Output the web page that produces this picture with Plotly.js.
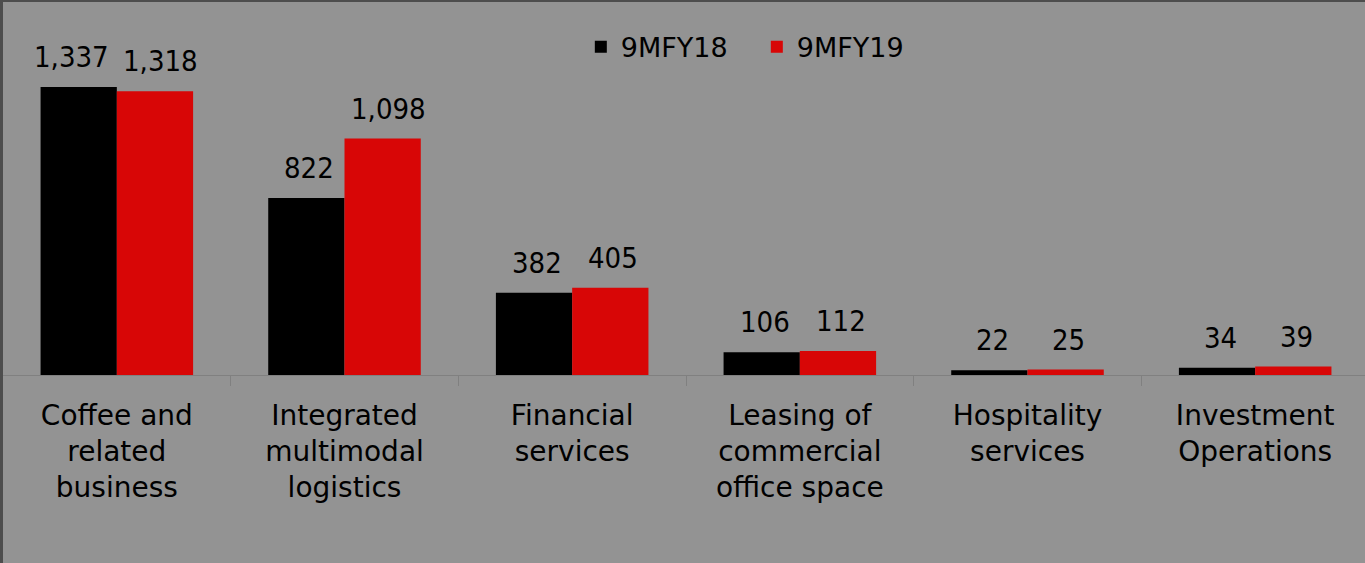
<!DOCTYPE html>
<html>
<head>
<meta charset="utf-8">
<script src="https://cdn.plot.ly/plotly-3.0.1.min.js"></script>
<style>
  html, body { margin: 0; padding: 0; width: 1365px; height: 563px; overflow: hidden; background: #4d4d4d; }
  #chart { position: absolute; left: 3px; top: 2px; width: 1366px; height: 561px; }
</style>
</head>
<body>
<div id="chart"></div>
<script>
const categories = [
  "Coffee and<br>related<br>business",
  "Integrated<br>multimodal<br>logistics",
  "Financial<br>services",
  "Leasing of<br>commercial<br>office space",
  "Hospitality<br>services",
  "Investment<br>Operations"
];
const seriesNames = ["9MFY18", "9MFY19"];
const values9MFY18 = [1337, 822, 382, 106, 22, 34];
const values9MFY19 = [1318, 1098, 405, 112, 25, 39];

const FONT = "'DejaVu Sans', sans-serif";
const NUMFONT = "'DejaVu Sans Condensed', 'DejaVu Sans', sans-serif";
const colors = ["#000000", "#d80606"];
const bargap = 0.33;
const barW = (1 - bargap) / 2;

const traces = [values9MFY18, values9MFY19].map((vals, k) => ({
  type: "bar",
  name: seriesNames[k],
  x: categories.map((_, i) => i),
  y: vals,
  marker: { color: colors[k], line: { width: 0 } },
  hoverinfo: "skip"
}));

const annotations = [];
[values9MFY18, values9MFY19].forEach((vals, k) => {
  vals.forEach((v, i) => {
    const wide = v >= 1000;
    annotations.push({
      x: i + (k === 0 ? -barW / 2 : barW / 2),
      y: v,
      xref: "x", yref: "y",
      text: v.toLocaleString("en-US"),
      showarrow: false,
      yanchor: "bottom",
      yshift: 11,
      xshift: wide ? (k === 0 ? -7 : 6) : 3,
      font: { family: NUMFONT, size: 29, color: "#000" }
    });
  });
});

const layout = {
  width: 1366,
  height: 561,
  margin: { l: 0, r: 0, t: 0, b: 188, pad: 0 },
  paper_bgcolor: "#939393",
  plot_bgcolor: "rgba(0,0,0,0)",
  barmode: "group",
  bargap: bargap,
  bargroupgap: 0,
  showlegend: true,
  legend: {
    orientation: "h",
    x: 0.423, xanchor: "left",
    y: 0.879, yanchor: "middle",
    bgcolor: "rgba(0,0,0,0)",
    entrywidth: 131,
    entrywidthmode: "pixels",
    font: { family: FONT, size: 27, color: "#000" },
    itemclick: false
  },
  xaxis: {
    range: [-0.5, 5.5],
    tickmode: "array",
    tickvals: categories.map((_, i) => i),
    ticktext: categories,
    showline: true,
    linecolor: "#808080",
    linewidth: 1,
    ticks: "",
    ticklabelstandoff: 15,
    showgrid: false,
    zeroline: false,
    tickfont: { family: FONT, size: 28, color: "#000" },
    minor: {
      tickmode: "array",
      tickvals: [0.5, 1.5, 2.5, 3.5, 4.5],
      ticks: "outside",
      ticklen: 10,
      tickcolor: "#808080",
      showgrid: false
    },
    fixedrange: true
  },
  yaxis: {
    range: [0, 1732],
    visible: false,
    showgrid: false,
    zeroline: false,
    fixedrange: true
  },
  annotations: annotations,
  font: { family: FONT }
};

Plotly.newPlot("chart", traces, layout, { displayModeBar: false, staticPlot: true });
</script>
</body>
</html>
